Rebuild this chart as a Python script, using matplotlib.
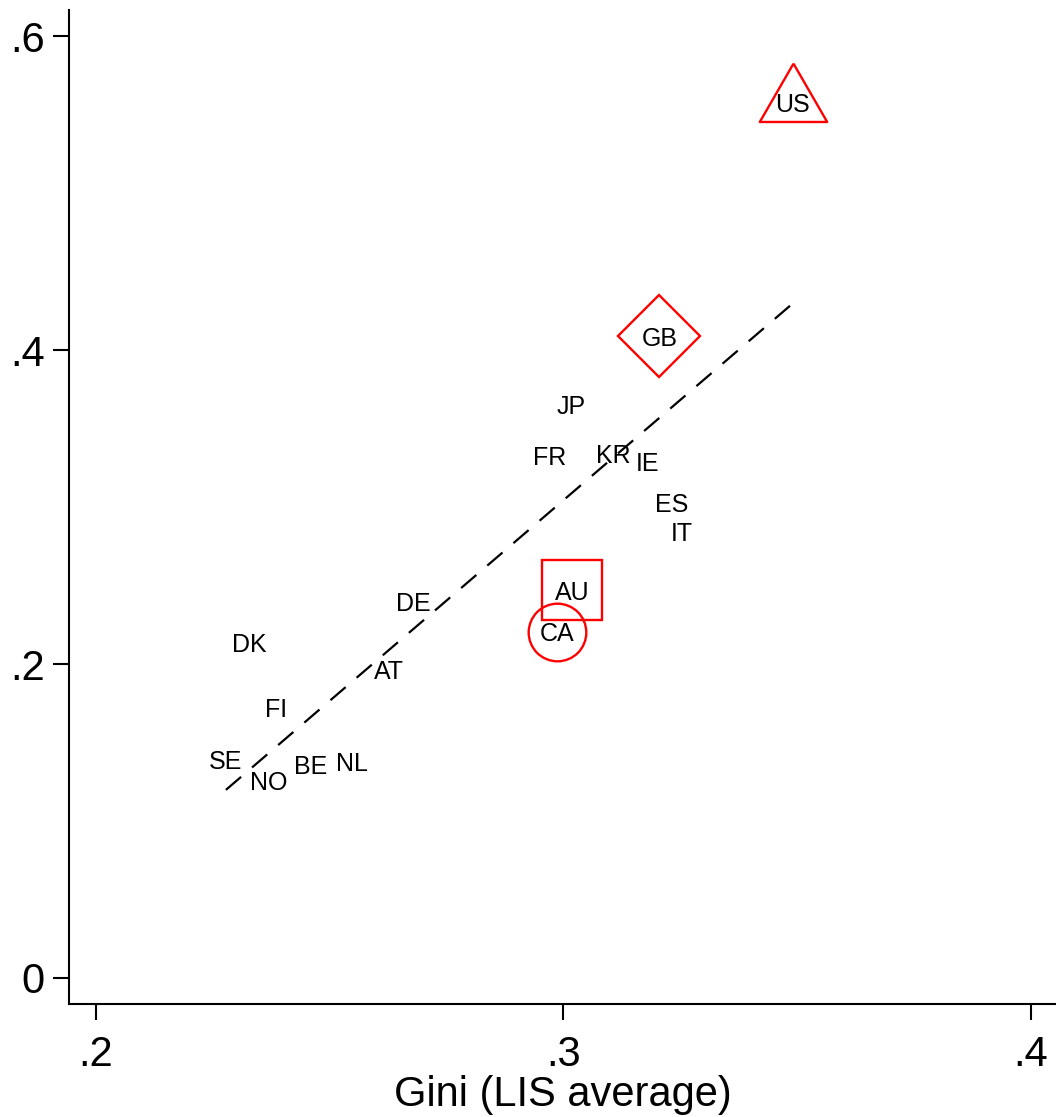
import numpy as np
import matplotlib
matplotlib.use('Agg')
import matplotlib.pyplot as plt

plt.rcParams['font.family'] = ['Liberation Sans', 'DejaVu Sans']

# country codes, Gini (LIS average) and the y-axis measure
countries = ['US', 'GB', 'JP', 'FR', 'KR', 'IE', 'ES', 'IT', 'AU', 'CA',
             'DE', 'DK', 'AT', 'FI', 'SE', 'NO', 'BE', 'NL']
gini = [0.349, 0.3205, 0.3017, 0.2970, 0.3107, 0.3179, 0.3231, 0.3254, 0.3019, 0.2987,
        0.2679, 0.2329, 0.2626, 0.2385, 0.2278, 0.2370, 0.2459, 0.2547]
yval = [0.558, 0.4089, 0.3656, 0.3331, 0.3338, 0.3293, 0.3032, 0.2847, 0.2471, 0.2204,
        0.2401, 0.2140, 0.1962, 0.1726, 0.1389, 0.1255, 0.1363, 0.1376]

# highlighted countries and their symbols
highlight = {'US': 'tri', 'GB': 'D', 'AU': 's', 'CA': 'o'}

xticks = [0.2, 0.3, 0.4]
yticks = [0, 0.2, 0.4, 0.6]

gini = np.array(gini)
yval = np.array(yval)

fig = plt.figure(figsize=(10.56, 11.17), dpi=100)
ax = fig.add_axes([0.0653, 0.1012, 0.9347, 0.8898])

# equilateral triangle centred on its centroid
tri = [(0, 0.577), (-0.5, -0.289), (0.5, -0.289), (0, 0.577)]
sizes = {'tri': 56, 'D': 42, 's': 42.5, 'o': 41.5}

for c, mk in highlight.items():
    i = countries.index(c)
    ax.plot(gini[i], yval[i], marker=tri if mk == 'tri' else mk, ms=sizes[mk],
            mfc='none', mec='red', mew=1.7, ls='none')

# linear fit over the data range
b, a = np.polyfit(gini, yval, 1)
xs = np.array([gini.min(), gini.max()])
ax.plot(xs, a + b * xs, color='black', lw=1.6, dashes=(9, 6.5))

for c, x, y in zip(countries, gini, yval):
    ax.text(x, y, c, ha='center', va='center_baseline', fontsize=18)

ax.set_xlim(0.19423, 0.40535)
ax.set_ylim(-0.01656, 0.6166)
ax.set_xticks(xticks)
ax.set_xticklabels(['.2', '.3', '.4'])
ax.set_yticks(yticks)
ax.set_yticklabels(['0', '.2', '.4', '.6'])
ax.tick_params(labelsize=30, length=11.5, width=1.5, pad=6)
ax.tick_params(axis='x', pad=11)
ax.spines['top'].set_visible(False)
ax.spines['right'].set_visible(False)
ax.spines['left'].set_linewidth(1.5)
ax.spines['bottom'].set_linewidth(1.5)
ax.set_xlabel('Gini (LIS average)', fontsize=30, labelpad=0)

fig.savefig('out.png', dpi=100)
